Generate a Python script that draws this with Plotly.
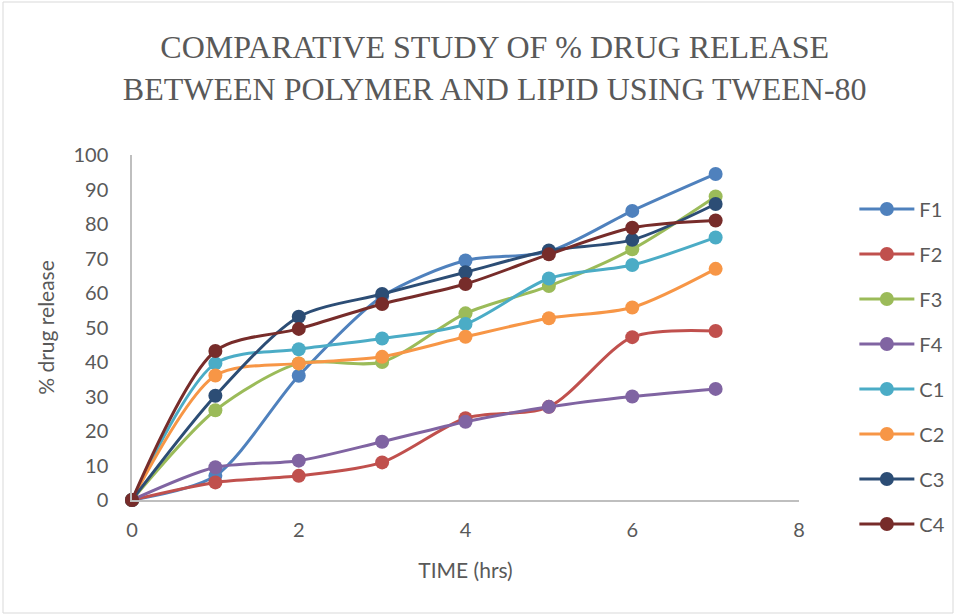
import plotly.graph_objects as go

time_hrs = [0, 1, 2, 3, 4, 5, 6, 7]
F1 = [0, 7, 36, 59, 69.4, 72, 83.8, 94.5]
F2 = [0, 5.1, 7, 10.9, 23.7, 27, 47.2, 49]
F3 = [0, 26, 39.6, 40, 54.1, 62, 72.7, 88]
F4 = [0, 9.5, 11.4, 16.9, 22.7, 27, 30, 32.2]
C1 = [0, 39.6, 43.7, 46.8, 51, 64.2, 68.1, 76.1]
C2 = [0, 36.1, 39.6, 41.5, 47.3, 52.7, 55.8, 67]
C3 = [0, 30.2, 53.1, 59.7, 66, 72.3, 75.4, 85.8]
C4 = [0, 43.2, 49.6, 56.8, 62.6, 71.2, 78.9, 81]

names = ["F1", "F2", "F3", "F4", "C1", "C2", "C3", "C4"]
series = [F1, F2, F3, F4, C1, C2, C3, C4]
colors = ["#4F81BD", "#C0504D", "#9BBB59", "#8064A2",
          "#4BACC6", "#F79646", "#2C4D75", "#772C2A"]

fig = go.Figure()
for n, s, c in zip(names, series, colors):
    fig.add_trace(go.Scatter(
        x=time_hrs, y=s, name=n, mode="lines+markers",
        line=dict(color=c, width=3, shape="spline", smoothing=0.8),
        marker=dict(color=c, size=14),
        cliponaxis=False, legendgroup=n,
    ))

tick_font = dict(family="Lato, Open Sans, sans-serif", size=20, color="#595959")
title_font = dict(family="Lato, Open Sans, sans-serif", size=21, color="#595959")
fig.update_layout(
    width=955, height=615,
    margin=dict(l=132, r=156, t=155, b=115, autoexpand=False),
    paper_bgcolor="white", plot_bgcolor="white",
    title=dict(
        text="COMPARATIVE STUDY OF % DRUG RELEASE<br>BETWEEN POLYMER AND LIPID USING TWEEN-80",
        x=0.518, xanchor="center", y=0.905, yanchor="top",
        font=dict(family="Liberation Serif, Times New Roman, serif", size=32, color="#595959"),
    ),
    xaxis=dict(
        range=[0, 8], dtick=2, tick0=0, showgrid=False, zeroline=False,
        showline=True, linecolor="#BFBFBF", linewidth=1.5,
        ticks="", tickfont=tick_font, ticklabelstandoff=11,
        title=dict(text="TIME (hrs)", font=title_font, standoff=24),
    ),
    yaxis=dict(
        range=[0, 100], dtick=10, tick0=0, showgrid=False, zeroline=False,
        showline=True, linecolor="#BFBFBF", linewidth=1.5,
        ticks="", tickfont=tick_font, ticklabelstandoff=18,
        title=dict(text="% drug release", font=title_font, standoff=13),
    ),
    legend=dict(
        x=1.083, xanchor="left", y=0.9, yanchor="top",
        font=tick_font, tracegroupgap=16, itemwidth=55,
        bgcolor="rgba(0,0,0,0)", maxheight=600,
    ),
    shapes=[dict(type="rect", xref="paper", yref="paper",
                 x0=-129/667, x1=1+154/667, y0=-113/345, y1=1+153/345,
                 line=dict(color="#D9D9D9", width=1))],
)

fig.write_html("out.html")
